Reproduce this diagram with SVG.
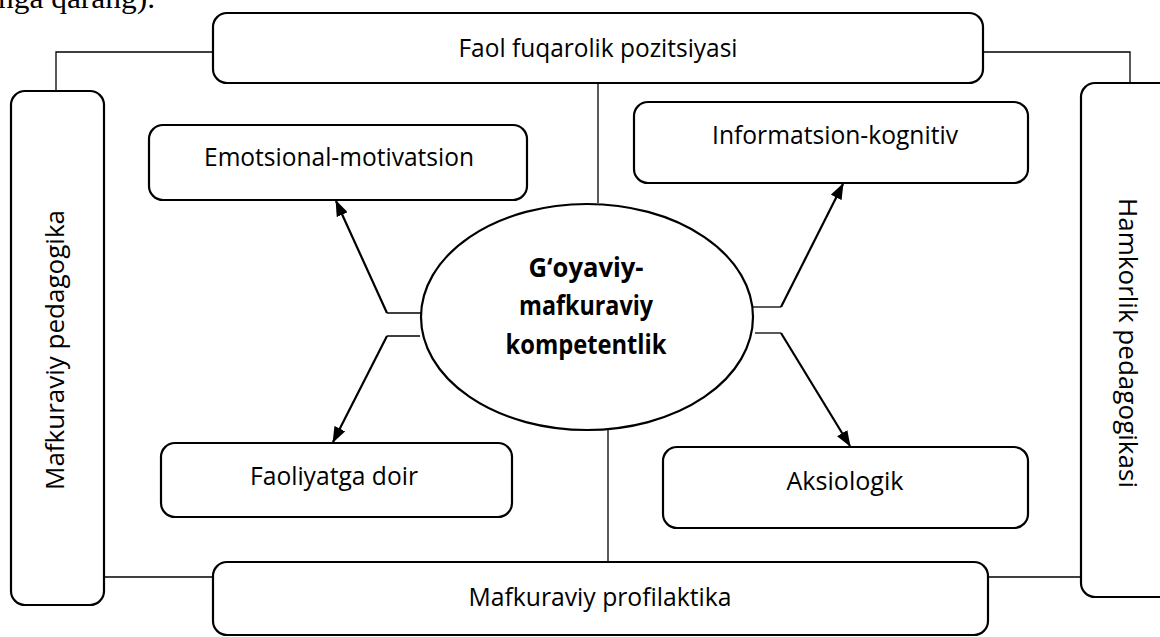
<svg xmlns="http://www.w3.org/2000/svg" width="1160" height="637" viewBox="0 0 1160 637">
<style>
.box{fill:#fff;stroke:#000;stroke-width:2.2}
.lbl{font-family:"Open Sans","Liberation Sans",sans-serif;font-size:25px;fill:#000;text-anchor:middle}
.bold{font-family:"Open Sans","Liberation Sans",sans-serif;font-size:26px;font-weight:bold;fill:#000;text-anchor:middle}
.thin{fill:none;stroke:#000;stroke-width:1.3}
.arr{fill:none;stroke:#000;stroke-width:2.2;marker-end:url(#ah)}
</style>
<defs>
<marker id="ah" markerUnits="userSpaceOnUse" markerWidth="16" markerHeight="12" refX="15" refY="6" orient="auto">
<path d="M0,0 L16,6 L0,12 z" fill="#000"/>
</marker>
</defs>
<rect width="1160" height="637" fill="#fff"/>
<text x="-2" y="8" font-family="'Liberation Serif',serif" font-size="30" textLength="157" lengthAdjust="spacingAndGlyphs">nga qarang).</text>
<g id="connectors">
<polyline class="thin" points="213,52 56,52 56,91"/>
<polyline class="thin" points="983,52 1130,52 1130,83"/>
<line class="thin" x1="104" y1="577" x2="213" y2="577"/>
<line class="thin" x1="988" y1="577" x2="1081" y2="577"/>
<line class="thin" x1="598" y1="83" x2="598" y2="203"/>
<line class="thin" x1="608" y1="430" x2="608" y2="562"/>
<polyline class="thin" points="421,313 387,313"/>
<polyline class="thin" points="420,336 387,336"/>
<polyline class="thin" points="752,307 781,307"/>
<polyline class="thin" points="755,333 781,333"/>
<line class="arr" x1="387" y1="313" x2="336" y2="201"/>
<line class="arr" x1="387" y1="336" x2="333" y2="442"/>
<line class="arr" x1="781" y1="307" x2="843" y2="184"/>
<line class="arr" x1="781" y1="333" x2="850" y2="446"/>
</g>
<g id="faol">
<rect class="box" x="213" y="13" width="770" height="70" rx="14"/>
<text class="lbl" x="598" y="57" textLength="279" lengthAdjust="spacingAndGlyphs">Faol fuqarolik pozitsiyasi</text>
</g>
<g id="mafkuraviy-pedagogika">
<rect class="box" x="11" y="91" width="93" height="514" rx="14"/>
<text class="lbl" transform="translate(64,350) rotate(-90)" textLength="280" lengthAdjust="spacingAndGlyphs">Mafkuraviy pedagogika</text>
</g>
<g id="hamkorlik">
<rect class="box" x="1081" y="83" width="94" height="514" rx="14"/>
<text class="lbl" transform="translate(1119,343) rotate(90)" textLength="290" lengthAdjust="spacingAndGlyphs">Hamkorlik pedagogikasi</text>
</g>
<g id="profilaktika">
<rect class="box" x="213" y="562" width="775" height="73" rx="14"/>
<text class="lbl" x="600" y="606" textLength="263" lengthAdjust="spacingAndGlyphs">Mafkuraviy profilaktika</text>
</g>
<g id="emotsional">
<rect class="box" x="149" y="125" width="378" height="75" rx="14"/>
<text class="lbl" x="339" y="166" textLength="270" lengthAdjust="spacingAndGlyphs">Emotsional-motivatsion</text>
</g>
<g id="informatsion">
<rect class="box" x="634" y="102" width="394" height="81" rx="14"/>
<text class="lbl" x="835" y="144" textLength="246" lengthAdjust="spacingAndGlyphs">Informatsion-kognitiv</text>
</g>
<g id="faoliyatga">
<rect class="box" x="161" y="443" width="351" height="74" rx="14"/>
<text class="lbl" x="334" y="485" textLength="168" lengthAdjust="spacingAndGlyphs">Faoliyatga doir</text>
</g>
<g id="aksiologik">
<rect class="box" x="663" y="447" width="365" height="81" rx="14"/>
<text class="lbl" x="845" y="490" textLength="117" lengthAdjust="spacingAndGlyphs">Aksiologik</text>
</g>
<g id="center">
<ellipse cx="587" cy="317" rx="166" ry="113" fill="#fff" stroke="#000" stroke-width="2.2"/>
<text class="bold" x="586" y="277" textLength="115" lengthAdjust="spacingAndGlyphs">G‘oyaviy-</text>
<text class="bold" x="586" y="315" textLength="134" lengthAdjust="spacingAndGlyphs">mafkuraviy</text>
<text class="bold" x="586" y="354" textLength="161" lengthAdjust="spacingAndGlyphs">kompetentlik</text>
</g>
</svg>
